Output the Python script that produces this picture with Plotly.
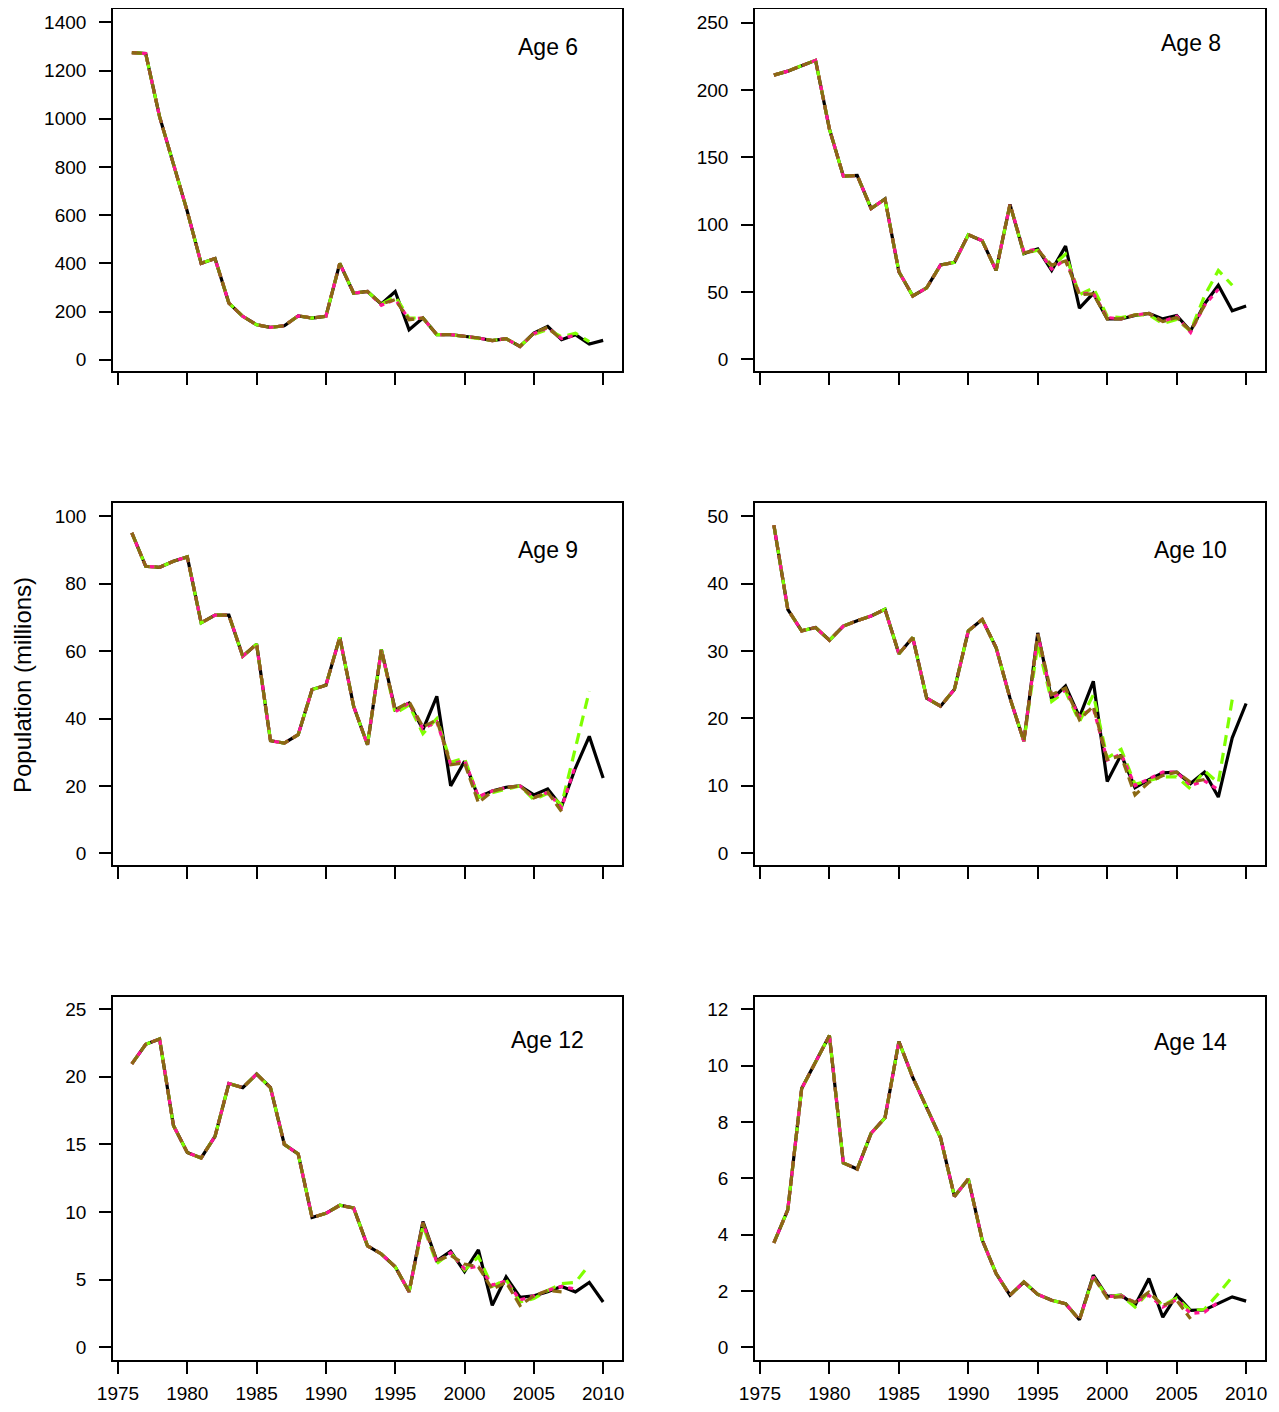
import plotly.graph_objects as go

YEARS = list(range(1976, 2011))
X_TICKS = [1975, 1980, 1985, 1990, 1995, 2000, 2005, 2010]

# ---- Age 6 ----
AGE6_MAIN = [1275, 1271, 1009, 815, 615, 400, 420, 235, 180, 145, 134, 141, 182, 173, 180,
             400, 276, 283, 231, 283, 124, 173, 104, 104, 97, 90, 79, 87, 55, 110, 138, 83, 104, 65, 80]
AGE6_GREEN_START = 1993
AGE6_GREEN = [283, 231, 262, 173, 173, 104, 104, 97, 90, 80, 87, 57, 104, 126, 95, 110, 75]
AGE6_PINK_START = 1993
AGE6_PINK = [283, 226, 250, 168, 173, 104, 104, 97, 90, 79, 87, 55, 108, 132, 88, 102]
AGE6_BROWN_START = 1993
AGE6_BROWN = [283, 232, 249, 166, 173, 104, 104, 97, 90, 79, 87, 55, 110, 135, 83]
AGE6_TICKS = [0, 200, 400, 600, 800, 1000, 1200, 1400]

# ---- Age 8 ----
AGE8_MAIN = [211, 214, 218, 222, 171, 136, 136.5, 112, 119, 65, 47, 53, 70, 72, 92.5, 88, 66, 115,
             78.5, 82, 66, 84, 38, 49, 30, 30, 32.5, 34, 30, 32.5, 21, 41, 55, 36, 39.5]
AGE8_GREEN_START = 1994
AGE8_GREEN = [78.5, 81, 69, 78, 48, 53, 32, 31, 33, 33, 26.5, 29.5, 21, 47, 66, 55]
AGE8_PINK_START = 1994
AGE8_PINK = [80, 82, 67, 74, 49, 49, 31, 30, 33, 34, 28, 32, 20, 40, 52]
AGE8_BROWN_START = 1994
AGE8_BROWN = [79, 81, 70, 73, 48, 48.5, 30, 30, 33, 34, 28, 31, 21, 40]
AGE8_TICKS = [0, 50, 100, 150, 200, 250]

# ---- Age 9 ----
AGE9_MAIN = [95.1, 85.2, 84.9, 86.7, 88.0, 68.4, 70.7, 70.7, 58.5, 62.1, 33.4, 32.7, 35.2, 48.6, 49.9,
             64.1, 43.6, 32.2, 60.5, 42.6, 44.6, 36.7, 46.6, 20.0, 27.3, 16.6, 18.5, 19.6, 20.0, 17.3,
             19.1, 13.9, 25.3, 34.7, 22.3]
AGE9_GREEN_START = 1995
AGE9_GREEN = [41.5, 44, 35.5, 40, 27, 28.2, 16.6, 18, 19, 20, 15.9, 17.8, 14.4, 31, 48.1]
AGE9_PINK_START = 1995
AGE9_PINK = [42, 44.6, 37, 39, 26.5, 27.5, 16.8, 18.5, 19.5, 20, 16.5, 18, 13.5, 26]
AGE9_BROWN_START = 1995
AGE9_BROWN = [42.5, 45, 37.5, 39.6, 26.3, 26.8, 15.0, 18.3, 19.5, 20, 16.4, 18.1, 12.4]
AGE9_TICKS = [0, 20, 40, 60, 80, 100]

# ---- Age 10 ----
AGE10_MAIN = [48.7, 36.2, 33.0, 33.5, 31.6, 33.7, 34.5, 35.2, 36.2, 29.6, 32.0, 23.0, 21.8, 24.3, 33.0,
              34.7, 30.5, 23.0, 16.6, 32.7, 22.8, 24.8, 20.2, 25.5, 10.6, 14.6, 9.7, 10.9, 11.9, 12.0,
              10.3, 12.0, 8.3, 17.1, 22.2]
AGE10_GREEN_START = 1995
AGE10_GREEN = [31, 22.5, 24, 19.5, 23.5, 14.1, 15.4, 10.2, 10.8, 11.3, 11.3, 9.5, 12.2, 10.4, 22.8]
AGE10_PINK_START = 1995
AGE10_PINK = [32.5, 23.0, 24.2, 20.3, 21.5, 13.8, 14.7, 10.0, 11.0, 12.0, 12.0, 10.0, 10.7, 9.4]
AGE10_BROWN_START = 1995
AGE10_BROWN = [32.5, 23.5, 24.5, 19.8, 21.8, 13.9, 14.4, 8.6, 10.5, 11.5, 12.0, 10.5, 10.9]
AGE10_TICKS = [0, 10, 20, 30, 40, 50]

# ---- Age 12 ----
AGE12_MAIN = [20.96, 22.4, 22.8, 16.4, 14.4, 14.0, 15.6, 19.5, 19.2, 20.2, 19.2, 15.0, 14.3, 9.6, 9.9,
              10.5, 10.3, 7.5, 6.9, 5.95, 4.1, 9.3, 6.4, 7.1, 5.6, 7.2, 3.1, 5.2, 3.7, 3.8,
              4.1, 4.5, 4.1, 4.8, 3.35]
AGE12_GREEN_START = 1996
AGE12_GREEN = [4.1, 9.0, 6.2, 7.0, 5.7, 6.7, 4.5, 5.0, 3.35, 3.6, 4.2, 4.7, 4.8, 6.1]
AGE12_PINK_START = 1996
AGE12_PINK = [4.1, 9.2, 6.3, 7.0, 5.8, 6.0, 4.6, 4.9, 3.5, 3.8, 4.2, 4.5, 4.3]
AGE12_BROWN_START = 1996
AGE12_BROWN = [4.1, 9.2, 6.4, 6.8, 6.15, 5.95, 4.3, 4.8, 3.1, 3.8, 4.2, 4.1]
AGE12_TICKS = [0, 5, 10, 15, 20, 25]

# ---- Age 14 ----
AGE14_MAIN = [3.71, 4.88, 9.19, 10.14, 11.07, 6.55, 6.33, 7.6, 8.15, 10.86, 9.58, 8.51, 7.44, 5.36, 5.98,
              3.81, 2.62, 1.85, 2.32, 1.88, 1.67, 1.55, 0.98, 2.56, 1.81, 1.85, 1.49, 2.44, 1.07, 1.85,
              1.31, 1.33, 1.57, 1.79, 1.64]
AGE14_GREEN_START = 1998
AGE14_GREEN = [0.98, 2.5, 1.8, 1.85, 1.43, 1.96, 1.49, 1.75, 1.3, 1.35, 1.9, 2.5]
AGE14_PINK_START = 1998
AGE14_PINK = [0.98, 2.5, 1.8, 1.83, 1.6, 1.85, 1.43, 1.7, 1.2, 1.25, 1.6]
AGE14_BROWN_START = 1998
AGE14_BROWN = [0.98, 2.5, 1.75, 1.8, 1.6, 1.96, 1.49, 1.67, 1.01]
AGE14_TICKS = [0, 2, 4, 6, 8, 10, 12]

LABELS = ["Age 6", "Age 8", "Age 9", "Age 10", "Age 12", "Age 14"]

# ---- layout / style (not data) ----
FONT = "Liberation Sans, Arial, Helvetica, sans-serif"
GREEN = "#7FFF00"
PINK = "#FF1493"
BROWN = "#8B6914"
OFF = 8                      # default page body margin
W, H = 1279 - 2 * OFF, 1412 - 2 * OFF


def px_x(x):
    return (x - OFF) / W


def px_y(y):
    return 1 - (y - OFF) / H


COL_X = [[px_x(113), px_x(622)], [px_x(755), px_x(1265)]]
ROW_Y = [[px_y(371), px_y(8.5)], [px_y(865), px_y(503)], [px_y(1360), px_y(997)]]
Y_RANGES = [[-47, 1458], [-8.7, 260.5], [-3.5, 104], [-1.8, 52], [-0.94, 25.9], [-0.45, 12.44]]
LABEL_Y = [0.893, 0.904, 0.870, 0.870, 0.882, 0.876]


def retro(main, start, tail):
    k = start - YEARS[0]
    vals = list(main[:k]) + list(tail)
    return YEARS[:len(vals)], vals


panels = [
    (AGE6_MAIN, (AGE6_GREEN_START, AGE6_GREEN), (AGE6_PINK_START, AGE6_PINK), (AGE6_BROWN_START, AGE6_BROWN), AGE6_TICKS),
    (AGE8_MAIN, (AGE8_GREEN_START, AGE8_GREEN), (AGE8_PINK_START, AGE8_PINK), (AGE8_BROWN_START, AGE8_BROWN), AGE8_TICKS),
    (AGE9_MAIN, (AGE9_GREEN_START, AGE9_GREEN), (AGE9_PINK_START, AGE9_PINK), (AGE9_BROWN_START, AGE9_BROWN), AGE9_TICKS),
    (AGE10_MAIN, (AGE10_GREEN_START, AGE10_GREEN), (AGE10_PINK_START, AGE10_PINK), (AGE10_BROWN_START, AGE10_BROWN), AGE10_TICKS),
    (AGE12_MAIN, (AGE12_GREEN_START, AGE12_GREEN), (AGE12_PINK_START, AGE12_PINK), (AGE12_BROWN_START, AGE12_BROWN), AGE12_TICKS),
    (AGE14_MAIN, (AGE14_GREEN_START, AGE14_GREEN), (AGE14_PINK_START, AGE14_PINK), (AGE14_BROWN_START, AGE14_BROWN), AGE14_TICKS),
]

fig = go.Figure()
layout = dict(
    width=W, height=H,
    margin=dict(l=0, r=0, t=0, b=0, autoexpand=False),
    paper_bgcolor="white", plot_bgcolor="white",
    showlegend=False,
    font=dict(family=FONT, size=19, color="black"),
    annotations=[],
)

for i, (main, g, p, b, yt) in enumerate(panels):
    n = i + 1
    xa = "x" if n == 1 else f"x{n}"
    ya = "y" if n == 1 else f"y{n}"
    row, col = i // 2, i % 2

    fig.add_trace(go.Scatter(x=YEARS, y=main, mode="lines", xaxis=xa, yaxis=ya,
                             line=dict(color="black", width=3.2), hoverinfo="skip"))
    for (start, tail), color, dash in [(g, GREEN, "11px,7px"), (p, PINK, "5px,5px"), (b, BROWN, "10px,5px")]:
        xs, ys = retro(main, start, tail)
        fig.add_trace(go.Scatter(x=xs, y=ys, mode="lines", xaxis=xa, yaxis=ya,
                                 line=dict(color=color, width=3.2, dash=dash), hoverinfo="skip"))

    axis_common = dict(showline=True, mirror=True, linecolor="black", linewidth=1.6,
                       showgrid=False, zeroline=False, ticks="outside", ticklen=12,
                       tickwidth=1.6, tickcolor="black", automargin=False,
                       tickfont=dict(family=FONT, size=19, color="black"))
    layout["xaxis" if n == 1 else f"xaxis{n}"] = dict(
        axis_common, domain=COL_X[col], anchor=ya, range=[1974.64, 2011.36],
        tickmode="array", tickvals=X_TICKS, ticktext=[str(v) for v in X_TICKS],
        showticklabels=(row == 2), ticklabelstandoff=3)
    layout["yaxis" if n == 1 else f"yaxis{n}"] = dict(
        axis_common, domain=ROW_Y[row], anchor=xa, range=Y_RANGES[i],
        tickmode="array", tickvals=yt, ticktext=[str(v) for v in yt], tickangle=0,
        ticklabelstandoff=9)
    layout["annotations"].append(dict(
        text=LABELS[i], x=2006, y=LABEL_Y[i], xref=xa, yref=f"{ya} domain",
        showarrow=False, font=dict(family=FONT, size=23, color="black"),
        xanchor="center", yanchor="middle"))

layout["annotations"].append(dict(
    text="Population (millions)", x=px_x(22), y=px_y(685), xref="paper", yref="paper",
    showarrow=False, textangle=-90, font=dict(family=FONT, size=24, color="black"),
    xanchor="center", yanchor="middle"))

fig.update_layout(**layout)
fig.write_html("out.html")
